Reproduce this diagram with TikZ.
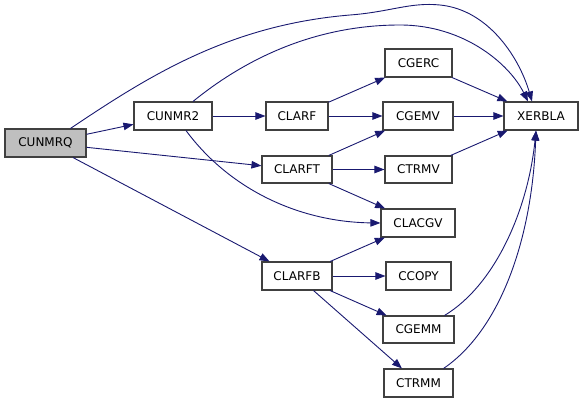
\documentclass[tikz,border=0pt]{standalone}
\usepackage{fontspec}
\setmainfont{DejaVu Sans}
\usetikzlibrary{arrows.meta,calc}
\definecolor{edgecol}{HTML}{191970}
\definecolor{boxcol}{HTML}{404040}
\definecolor{rootfill}{HTML}{BFBFBF}
\tikzset{
  fn/.style={draw=boxcol, line width=1.1pt, fill=white, inner sep=0pt, minimum height=28pt,
    font=\fontsize{12}{14}\selectfont},
  rootfn/.style={fn, fill=rootfill},
  edge/.style={draw=edgecol, line width=0.9pt, -{Triangle[length=10pt,width=7.5pt]}},
}
\begin{document}
\begin{tikzpicture}[x=1pt,y=-1pt]
\useasboundingbox (0,0) rectangle (584,403);
\node[rootfn, minimum width=81pt] (cunmrq) at (45.5,143) {CUNMRQ};
\node[fn, minimum width=78pt] (cunmr2) at (173,116) {CUNMR2};
\node[fn, minimum width=62pt] (clarf) at (297,116) {CLARF};
\node[fn, minimum width=70pt, minimum height=27pt] (clarft) at (297,169.5) {CLARFT};
\node[fn, minimum width=70pt] (clarfb) at (297,276) {CLARFB};
\node[fn, minimum width=67pt] (cgerc) at (418.5,63) {CGERC};
\node[fn, minimum width=70pt] (cgemv) at (418,116) {CGEMV};
\node[fn, minimum width=67pt, minimum height=27pt] (ctrmv) at (418.5,169.5) {CTRMV};
\node[fn, minimum width=74pt] (clacgv) at (418,223) {CLACGV};
\node[fn, minimum width=65pt] (ccopy) at (418.5,276) {CCOPY};
\node[fn, minimum width=71pt, minimum height=27pt] (cgemm) at (418.5,329.5) {CGEMM};
\node[fn, minimum width=69pt] (ctrmm) at (418.5,383) {CTRMM};
\node[fn, minimum width=74pt] (xerbla) at (541,116) {XERBLA};

% straight edges
\draw[edge] (cunmrq) -- (cunmr2);
\draw[edge] (cunmrq) -- (clarft);
\draw[edge] (cunmrq) -- (clarfb);
\draw[edge] (cunmr2) -- (clarf);
\draw[edge] (clarf) -- (cgerc);
\draw[edge] (clarf) -- (cgemv);
\draw[edge] (clarft) -- (cgemv);
\draw[edge] (clarft) -- (ctrmv);
\draw[edge] (clarft) -- (clacgv);
\draw[edge] (clarfb) -- (clacgv);
\draw[edge] (clarfb) -- (ccopy);
\draw[edge] (clarfb) -- (cgemm);
\draw[edge] (clarfb) -- (ctrmm);
\draw[edge] (cgerc) -- (xerbla);
\draw[edge] (cgemv) -- (xerbla);
\draw[edge] (ctrmv) -- (xerbla);

% curved edges
\draw[edge] ($(cunmrq.north)+(25,0)$) .. controls (150,75) and (230,25) .. (350,15)
  .. controls (390,12) and (410,2) .. (440,5)
  .. controls (490,10) and (520,60) .. ($(xerbla.north)+(-9,0)$);
\draw[edge] ($(cunmr2.north)+(20,0)$) .. controls (250,55) and (320,25) .. (400,25)
  .. controls (465,25) and (510,65) .. ($(xerbla.north)+(-13,0)$);
\draw[edge] ($(cunmr2.south)+(13,0)$) .. controls (230,190) and (300,222) .. (clacgv.west);
\draw[edge] ($(cgemm.north east)+(-10,0)$) .. controls (495,285) and (528,210) .. ($(xerbla.south)+(-5,0)$);
\draw[edge] ($(ctrmm.north east)+(-10,0)$) .. controls (500,330) and (532,240) .. ($(xerbla.south)+(-5,0)$);
\end{tikzpicture}
\end{document}
